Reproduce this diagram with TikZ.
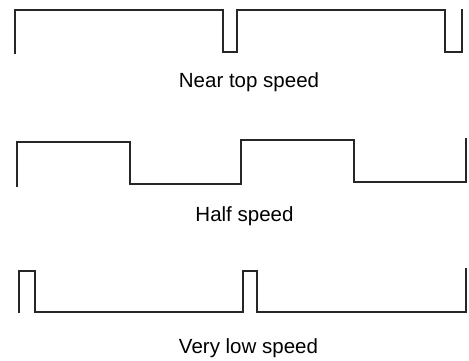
\documentclass[tikz,border=0pt]{standalone}
\usepackage{fontspec}
\setmainfont{Liberation Sans}
\begin{document}
\begin{tikzpicture}[x=1pt,y=-1pt,
  wave/.style={line width=2pt,draw=black!85,line join=miter,line cap=butt},
  caption/.style={anchor=base,inner sep=0pt,font=\fontsize{20.5}{24}\selectfont}]
\useasboundingbox (0,0) rectangle (469,360);
% near top speed: long high phases with short low notches
\draw[wave] (15,54) -- (15,10) -- (223,10) -- (223,52) -- (237,52) -- (237,10)
  -- (445,10) -- (445,52) -- (462,52) -- (462,9);
\node[caption] (ntop) at (249,87) {Near top speed};
% half speed: 50% duty cycle
\draw[wave] (16.5,187) -- (16.5,142) -- (129.5,142) -- (129.5,184) -- (241,184)
  -- (241,140) -- (353.5,140) -- (353.5,182) -- (465.5,182) -- (465.5,138);
\node[caption] (half) at (244.5,221) {Half speed};
% very low speed: short high pulses
\draw[wave] (18.5,313) -- (18.5,271) -- (35,271) -- (35,312) -- (243,312)
  -- (243,271) -- (257,271) -- (257,312) -- (465.5,312) -- (465.5,268);
\node[caption] (vlow) at (248.5,353) {Very low speed};
\end{tikzpicture}
\end{document}
